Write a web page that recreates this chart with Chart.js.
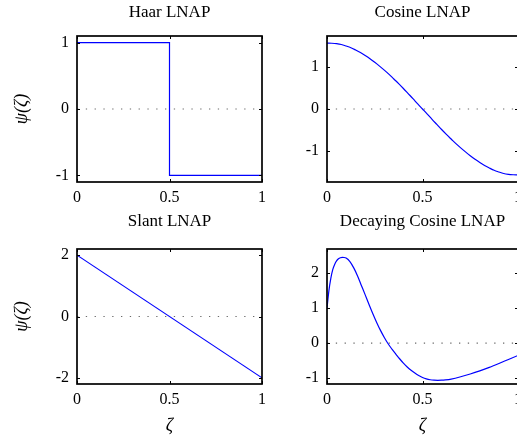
<!DOCTYPE html>
<html>
<head>
<meta charset="utf-8">
<script src="https://cdn.jsdelivr.net/npm/chart.js@4"></script>
<style>
html, body { margin: 0; padding: 0; background: #fff; overflow: hidden; }
#wrap { position: relative; width: 517px; height: 438px; overflow: hidden; }
#wrap canvas { position: absolute; left: 0; top: 0; }
</style>
</head>
<body>
<div id="wrap">
  <canvas id="haar" width="520" height="438"></canvas>
  <canvas id="cosine" width="520" height="438"></canvas>
  <canvas id="slant" width="520" height="438"></canvas>
  <canvas id="decay" width="520" height="438"></canvas>
</div>
<script>
(function() {
    'use strict';

    // values
    var xTicks = [0, 0.5, 1];

    var haarX = [0, 0.5, 0.5, 1];
    var haarY = [1, 1, -1, -1];
    var haarTicks = [-1, 0, 1];

    var cosX = [0, 0.025, 0.05, 0.075, 0.1, 0.125, 0.15, 0.175, 0.2, 0.225, 0.25,
                0.275, 0.3, 0.325, 0.35, 0.375, 0.4, 0.425, 0.45, 0.475, 0.5,
                0.525, 0.55, 0.575, 0.6, 0.625, 0.65, 0.675, 0.7, 0.725, 0.75,
                0.775, 0.8, 0.825, 0.85, 0.875, 0.9, 0.925, 0.95, 0.975, 1];
    var cosY = [1.56, 1.555, 1.545, 1.525, 1.49, 1.45, 1.395, 1.335, 1.265, 1.19, 1.105,
                1.015, 0.92, 0.82, 0.71, 0.6, 0.485, 0.365, 0.245, 0.12, 0,
                -0.12, -0.245, -0.365, -0.485, -0.6, -0.71, -0.82, -0.92, -1.015, -1.105,
                -1.19, -1.265, -1.335, -1.395, -1.45, -1.49, -1.525, -1.545, -1.555, -1.56];
    var cosTicks = [-1, 0, 1];

    var slantX = [0, 1];
    var slantY = [2, -2];
    var slantTicks = [-2, 0, 2];

    var decayX = [0, 0.01, 0.02, 0.03, 0.04, 0.05, 0.06, 0.07, 0.08, 0.09, 0.1,
                  0.12, 0.14, 0.16, 0.18, 0.2, 0.22, 0.24, 0.26, 0.28, 0.3,
                  0.32, 0.34, 0.36, 0.38, 0.4, 0.42, 0.44, 0.46, 0.48, 0.5,
                  0.52, 0.54, 0.56, 0.58, 0.6, 0.62, 0.65, 0.7, 0.75, 0.8,
                  0.85, 0.9, 0.95, 1];
    var decayY = [1.0, 1.5, 1.85, 2.1, 2.25, 2.35, 2.41, 2.44, 2.45, 2.448, 2.43,
                  2.33, 2.15, 1.92, 1.65, 1.38, 1.105, 0.842, 0.594, 0.366, 0.163,
                  -0.017, -0.17, -0.31, -0.445, -0.57, -0.68, -0.775, -0.855, -0.925, -0.98,
                  -1.02, -1.045, -1.058, -1.062, -1.058, -1.048, -1.025, -0.96, -0.88, -0.79,
                  -0.69, -0.58, -0.465, -0.35];
    var decayTicks = [-1, 0, 1, 2];

    var serif = 'Liberation Serif, Times New Roman, serif';

    function pts(xs, ys) {
        return xs.map(function(x, i) { return {x: x, y: ys[i]}; });
    }

    // black box with small inward ticks on all four sides
    var boxTicks = {
        id: 'boxTicks',
        afterDatasetsDraw: function(chart) {
            var a = chart.chartArea, ctx = chart.ctx;
            var sx = chart.scales.x, sy = chart.scales.y;
            ctx.save();
            ctx.strokeStyle = '#000';
            ctx.lineWidth = 1;
            ctx.beginPath();
            sx.ticks.forEach(function(t) {
                var px = Math.round(sx.getPixelForValue(t.value)) + 0.5;
                ctx.moveTo(px, a.bottom); ctx.lineTo(px, a.bottom - 3);
                ctx.moveTo(px, a.top); ctx.lineTo(px, a.top + 3);
            });
            sy.ticks.forEach(function(t) {
                var py = Math.round(sy.getPixelForValue(t.value)) + 0.5;
                ctx.moveTo(a.left, py); ctx.lineTo(a.left + 3, py);
                ctx.moveTo(a.right, py); ctx.lineTo(a.right - 3, py);
            });
            ctx.stroke();
            ctx.lineWidth = 1.7;
            ctx.strokeRect(a.left, a.top, a.right - a.left, a.bottom - a.top);
            ctx.restore();
        }
    };

    function makeChart(id, o) {
        new Chart(document.getElementById(id), {
            type: 'line',
            data: {
                datasets: [{
                    data: pts(o.xs, o.ys),
                    borderColor: '#0000ff',
                    borderWidth: 1.2,
                    pointRadius: 0,
                    tension: 0,
                    cubicInterpolationMode: o.smooth ? 'monotone' : 'default'
                }, {
                    data: pts([xTicks[0], xTicks[xTicks.length - 1]], [0, 0]),
                    borderColor: '#6a6a6a',
                    borderWidth: 1.2,
                    borderDash: [1.3, 7.5],
                    pointRadius: 0
                }]
            },
            options: {
                responsive: false,
                animation: false,
                events: [],
                layout: {
                    padding: {left: o.padLeft, right: 520 - o.right, top: o.padTop, bottom: o.padBottom}
                },
                plugins: {
                    legend: {display: false},
                    tooltip: {enabled: false},
                    title: {
                        display: true,
                        text: o.title,
                        fullSize: false,
                        color: '#000',
                        font: {family: serif, size: 17, weight: 'normal'},
                        padding: {top: 2, bottom: o.titleGap}
                    }
                },
                scales: {
                    x: {
                        type: 'linear',
                        min: 0,
                        max: 1,
                        grid: {display: false, drawTicks: false},
                        border: {display: false},
                        afterBuildTicks: function(s) {
                            s.ticks = xTicks.map(function(v) { return {value: v}; });
                        },
                        ticks: {
                            padding: 6,
                            color: '#000',
                            maxRotation: 0,
                            font: {family: serif, size: 16},
                            callback: function(v) { return String(v); }
                        },
                        title: {
                            display: o.xTitle,
                            text: 'ζ',
                            color: '#000',
                            font: {family: serif, size: 18, style: 'italic'},
                            padding: {top: 0, bottom: 1}
                        },
                        afterFit: function(s) {
                            s.height = o.xHeight;
                            s.paddingLeft = 0;
                            s.paddingRight = 0;
                        }
                    },
                    y: {
                        min: o.yMin,
                        max: o.yMax,
                        grid: {display: false, drawTicks: false},
                        border: {display: false},
                        afterBuildTicks: function(s) {
                            s.ticks = o.yTicks.map(function(v) { return {value: v}; });
                        },
                        ticks: {
                            padding: 8,
                            color: '#000',
                            font: {family: serif, size: 16},
                            callback: function(v) { return String(v); }
                        },
                        title: {
                            display: o.yTitle,
                            text: 'ψ(ζ)',
                            color: '#000',
                            font: {family: serif, size: 18, style: 'italic'},
                            padding: {top: 11, bottom: 0}
                        },
                        afterFit: function(s) {
                            s.width = o.yWidth;
                            s.paddingTop = 0;
                            s.paddingBottom = 0;
                        }
                    }
                }
            },
            plugins: [boxTicks]
        });
    }

    makeChart('haar', {
        title: 'Haar LNAP', xs: haarX, ys: haarY, yTicks: haarTicks,
        yMin: -1.1, yMax: 1.1, smooth: false,
        padLeft: 0, yWidth: 77, right: 262,
        padTop: 0, titleGap: 13.6, padBottom: 226, xHeight: 30,
        xTitle: false, yTitle: true
    });
    makeChart('cosine', {
        title: 'Cosine LNAP', xs: cosX, ys: cosY, yTicks: cosTicks,
        yMin: -1.727, yMax: 1.727, smooth: true,
        padLeft: 260, yWidth: 67, right: 518,
        padTop: 0, titleGap: 13.6, padBottom: 226, xHeight: 30,
        xTitle: false, yTitle: false
    });
    makeChart('slant', {
        title: 'Slant LNAP', xs: slantX, ys: slantY, yTicks: slantTicks,
        yMin: -2.2, yMax: 2.2, smooth: false,
        padLeft: 0, yWidth: 77, right: 262,
        padTop: 209, titleGap: 17.6, padBottom: 0, xHeight: 54,
        xTitle: true, yTitle: true
    });
    makeChart('decay', {
        title: 'Decaying Cosine LNAP', xs: decayX, ys: decayY, yTicks: decayTicks,
        yMin: -1.166, yMax: 2.69, smooth: true,
        padLeft: 260, yWidth: 67, right: 518,
        padTop: 209, titleGap: 17.6, padBottom: 0, xHeight: 54,
        xTitle: true, yTitle: false
    });
})();
</script>
</body>
</html>
